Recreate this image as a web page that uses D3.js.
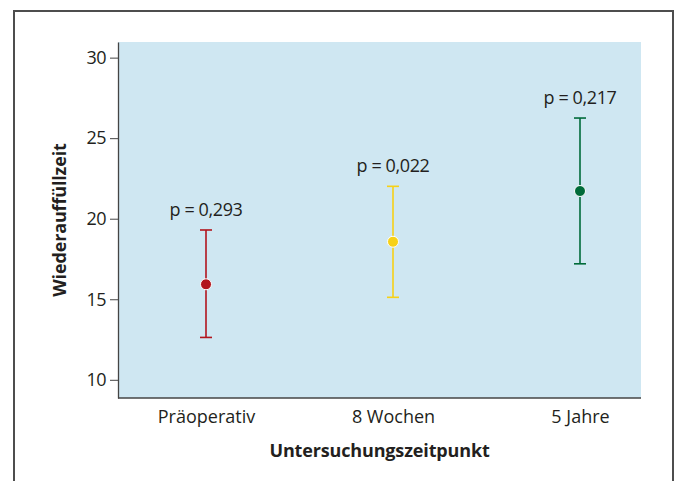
<!DOCTYPE html>
<html>
<head>
<meta charset="utf-8">
<script src="https://cdn.jsdelivr.net/npm/d3@7"></script>
<style>
  body { margin: 0; background: #fff; }
  svg text { font-family: "Open Sans", sans-serif; fill: #231f20; }
</style>
</head>
<body>
<svg id="chart" width="679" height="481"></svg>
<script>
// Werte
var zeitpunkte = ["Präoperativ", "8 Wochen", "5 Jahre"];
var mittelwerte = [15.93, 18.57, 21.72];
var obereGrenze = [19.30, 22.01, 26.25];
var untereGrenze = [12.63, 15.12, 17.20];
var pWerte = ["p = 0,293", "p = 0,022", "p = 0,217"];
var farben = ["#b2151d", "#f7d117", "#006b3a"];
var yTicks = [10, 15, 20, 25, 30];

var svg = d3.select("#chart"),
    width = +svg.attr("width"),
    height = +svg.attr("height");

// Rahmen
svg.append("rect")
  .attr("x", 14).attr("y", 11)
  .attr("width", 659).attr("height", 500)
  .attr("fill", "none")
  .attr("stroke", "#4d4d4d")
  .attr("stroke-width", 2);

var margin = {left: 118, right: 38, top: 42, bottom: 83};
var innerW = width - margin.left - margin.right,
    innerH = height - margin.top - margin.bottom;

var g = svg.append("g").attr("transform", "translate(" + margin.left + "," + margin.top + ")");

// die Punkte sitzen nicht symmetrisch im Plotbereich
var x = d3.scalePoint().domain(zeitpunkte).range([88, 462]);
var y = d3.scaleLinear().domain([8.87, 30.97]).range([innerH, 0]);

g.append("rect")
  .attr("width", innerW).attr("height", innerH)
  .attr("fill", "#cfe7f2");

// y-Achse
var yAxis = g.append("g").call(d3.axisLeft(y).tickValues(yTicks).tickSize(8).tickSizeOuter(0).tickPadding(4));
yAxis.select(".domain").attr("stroke", "#444").attr("stroke-width", 1.3);
yAxis.selectAll(".tick line").attr("stroke", "#444");
yAxis.selectAll(".tick text").style("font-size", "18px").style("letter-spacing", "-0.5px").attr("fill", "#231f20");

// x-Achse
var xAxis = g.append("g").attr("transform", "translate(0," + innerH + ")")
  .call(d3.axisBottom(x).tickSize(0).tickSizeOuter(0).tickPadding(12));
xAxis.select(".domain").remove();
xAxis.selectAll(".tick text").style("font-size", "18px").attr("fill", "#231f20");
g.append("line")
  .attr("x1", 0).attr("x2", innerW)
  .attr("y1", innerH).attr("y2", innerH)
  .attr("stroke", "#444").attr("stroke-width", 1.3);

// Achsentitel
svg.append("text")
  .attr("x", margin.left + innerW / 2).attr("y", 457)
  .attr("text-anchor", "middle")
  .style("font-size", "18px").style("font-weight", "bold").style("letter-spacing", "-0.15px")
  .text("Untersuchungszeitpunkt");

svg.append("text")
  .attr("transform", "translate(66," + (margin.top + innerH / 2) + ") rotate(-90)")
  .attr("text-anchor", "middle")
  .style("font-size", "18px").style("font-weight", "bold").style("letter-spacing", "-0.15px")
  .text("Wiederauffüllzeit");

var daten = zeitpunkte.map(function(z, i) {
  return {name: z, m: mittelwerte[i], hi: obereGrenze[i], lo: untereGrenze[i], p: pWerte[i], c: farben[i]};
});

var grp = g.selectAll(".fehler").data(daten).enter().append("g").attr("class", "fehler");

grp.append("line")
  .attr("x1", function(d) { return x(d.name); })
  .attr("x2", function(d) { return x(d.name); })
  .attr("y1", function(d) { return y(d.hi); })
  .attr("y2", function(d) { return y(d.lo); })
  .attr("stroke", function(d) { return d.c; })
  .attr("stroke-width", 1.6);

grp.selectAll(".cap").data(function(d) { return [[d, d.hi], [d, d.lo]]; })
  .enter().append("line")
  .attr("x1", function(d) { return x(d[0].name) - 6; })
  .attr("x2", function(d) { return x(d[0].name) + 6; })
  .attr("y1", function(d) { return y(d[1]); })
  .attr("y2", function(d) { return y(d[1]); })
  .attr("stroke", function(d) { return d[0].c; })
  .attr("stroke-width", 1.6);

grp.append("circle")
  .attr("cx", function(d) { return x(d.name); })
  .attr("cy", function(d) { return y(d.m); })
  .attr("r", 5.5)
  .attr("fill", function(d) { return d.c; })
  .attr("stroke", "#fff")
  .attr("stroke-width", 1);

grp.append("text")
  .attr("x", function(d) { return x(d.name); })
  .attr("y", function(d) { return y(d.hi) - 14; })
  .attr("text-anchor", "middle")
  .style("font-size", "18px").style("letter-spacing", "-0.4px")
  .text(function(d) { return d.p; });
</script>
</body>
</html>
